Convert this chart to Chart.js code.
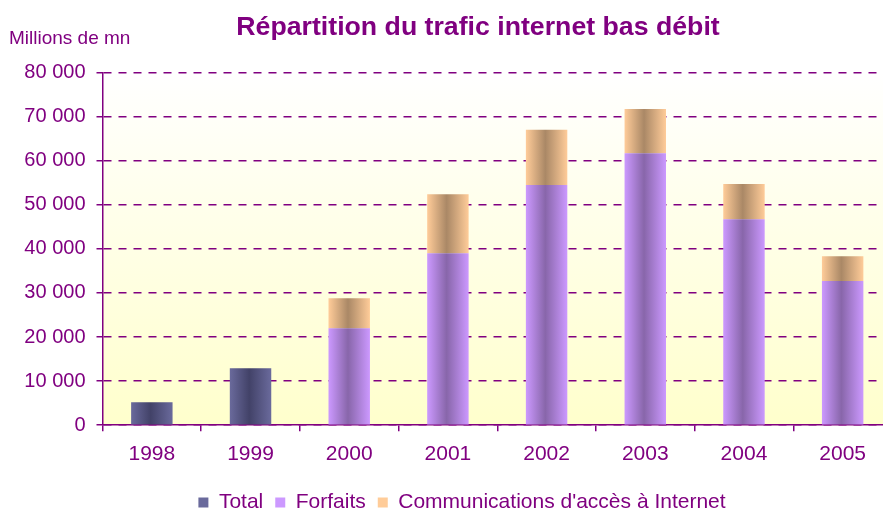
<!DOCTYPE html>
<html>
<head>
<meta charset="utf-8">
<script src="https://cdn.jsdelivr.net/npm/chart.js@4/dist/chart.umd.min.js"></script>
<style>
  html, body { margin: 0; padding: 0; overflow: hidden; background: #ffffff; }
  canvas { display: block; }
</style>
</head>
<body>
<canvas id="chart" width="892" height="523"></canvas>
<script>
// Low-speed internet traffic, millions of minutes per year
const years = ['1998', '1999', '2000', '2001', '2002', '2003', '2004', '2005'];
const totalValues = [5200, 12900, null, null, null, null, null, null];
const forfaitValues = [null, null, 22000, 39000, 54500, 61700, 46700, 32700];
const accessValues = [null, null, 6800, 13400, 12500, 10000, 8000, 5600];
const seriesNames = ['Total', 'Forfaits', "Communications d'accès à Internet"];
const chartTitle = 'Répartition du trafic internet bas débit';
const unitLabel = 'Millions de mn';

const PURPLE = '#800080';
const FONT = '"Liberation Sans", Arial, Helvetica, sans-serif';
const BAR_SHARE = 0.42;
const LEGEND_SHIFT = 11;

function formatThousands(v) {
  return String(v).replace(/\B(?=(\d{3})+(?!\d))/g, ' ');
}

// Cylinder-like shading: light edges, dark core
function barFill(light, dark, mid) {
  return (ctx) => {
    const chart = ctx.chart;
    const xs = chart.scales && chart.scales.x;
    if (!xs || ctx.dataIndex === undefined || !isFinite(xs.width) || xs.width <= 0) return mid;
    const cx = xs.getPixelForValue(ctx.dataIndex);
    const w = (xs.width / years.length) * BAR_SHARE;
    const g = chart.ctx.createLinearGradient(cx - w / 2, 0, cx + w / 2, 0);
    g.addColorStop(0, light);
    g.addColorStop(0.47, dark);
    g.addColorStop(1, light);
    return g;
  };
}

const plotBackground = {
  id: 'plotBackground',
  beforeDraw(chart) {
    const { ctx, chartArea: a } = chart;
    const g = ctx.createLinearGradient(0, a.top, 0, a.bottom);
    g.addColorStop(0, '#FFFFFF');
    g.addColorStop(1, '#FFFFCC');
    ctx.save();
    ctx.fillStyle = g;
    ctx.fillRect(a.left, a.top, a.right - a.left, a.bottom - a.top);
    ctx.restore();
  }
};

// Nudge the legend row to the right of the plain centred position
const legendOffset = {
  id: 'legendOffset',
  afterLayout(chart) {
    const lg = chart.legend;
    if (lg) { lg.left += LEGEND_SHIFT; lg.right += LEGEND_SHIFT; }
  }
};

const headerTexts = {
  id: 'headerTexts',
  afterDraw(chart) {
    const ctx = chart.ctx;
    ctx.save();
    ctx.fillStyle = PURPLE;
    ctx.textBaseline = 'alphabetic';
    ctx.font = 'bold 26.7px ' + FONT;
    ctx.textAlign = 'center';
    ctx.fillText(chartTitle, 478, 35);
    ctx.font = '19px ' + FONT;
    ctx.textAlign = 'left';
    ctx.fillText(unitLabel, 9, 44);
    ctx.restore();
  }
};

new Chart(document.getElementById('chart'), {
  type: 'bar',
  data: {
    labels: years,
    datasets: [
      {
        label: seriesNames[0],
        data: totalValues,
        backgroundColor: barFill('#6A6A9C', '#424268', '#55557F'),
        barPercentage: BAR_SHARE,
        categoryPercentage: 1
      },
      {
        label: seriesNames[1],
        data: forfaitValues,
        backgroundColor: barFill('#CC99FF', '#8866AA', '#A880D8'),
        barPercentage: BAR_SHARE,
        categoryPercentage: 1
      },
      {
        label: seriesNames[2],
        data: accessValues,
        backgroundColor: barFill('#FFCC99', '#AA8866', '#D8AA80'),
        barPercentage: BAR_SHARE,
        categoryPercentage: 1
      }
    ]
  },
  options: {
    responsive: false,
    animation: false,
    layout: { padding: { top: 72.5, left: 10, right: 0, bottom: 0 } },
    plugins: {
      title: { display: false },
      tooltip: { enabled: false },
      legend: {
        position: 'bottom',
        labels: {
          color: PURPLE,
          font: { family: FONT, size: 21 },
          boxWidth: 10,
          boxHeight: 10,
          padding: 12
        }
      }
    },
    scales: {
      x: {
        stacked: true,
        grid: {
          display: true,
          drawOnChartArea: false,
          drawTicks: true,
          tickLength: 6,
          color: PURPLE,
          lineWidth: 1.5,
          offset: true
        },
        border: { display: true, color: PURPLE, width: 1.5 },
        ticks: {
          color: PURPLE,
          font: { family: FONT, size: 21 },
          padding: 10,
          maxRotation: 0,
          autoSkip: false
        },
        afterFit(scale) { scale.height = 54.8; }
      },
      y: {
        stacked: true,
        min: 0,
        max: 80000,
        ticks: {
          stepSize: 10000,
          color: PURPLE,
          font: { family: FONT, size: 20 },
          padding: 11,
          callback: (v) => formatThousands(v)
        },
        grid: {
          color: PURPLE,
          lineWidth: 1.5,
          drawTicks: true,
          tickLength: 6,
          tickBorderDash: []
        },
        border: { display: true, color: PURPLE, width: 1.5, dash: [8, 7] },
        afterFit(scale) { scale.width = 92.5; }
      }
    }
  },
  plugins: [plotBackground, legendOffset, headerTexts]
});
</script>
</body>
</html>
